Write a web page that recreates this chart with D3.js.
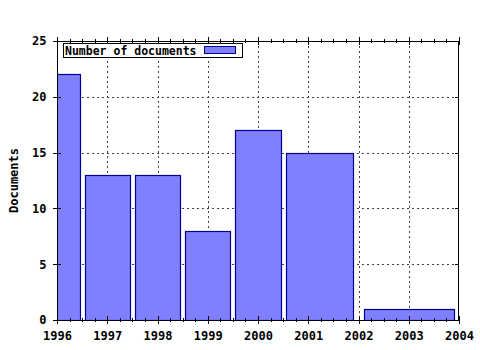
<!doctype html>
<html lang="en">
<head>
<meta charset="UTF-8">
<title>Documents per year</title>
<style>
  body { margin: 0; background: #fff; }
  text { font-family: "DejaVu Sans Mono", monospace; font-weight: bold; font-size: 12px; fill: #000; }
</style>
</head>
<body>
<div id="chart"></div>
<script src="https://d3js.org/d3.v7.min.js"></script>
<script>
  const binStart = [1995.55, 1996.55, 1997.55, 1998.55, 1999.55, 2000.55, 2002.1]
  const binEnd = [1996.45, 1997.45, 1998.45, 1999.45, 2000.45, 2001.9, 2003.9]
  const docCounts = [22, 13, 13, 8, 17, 15, 1]
  const yearTicks = [1996, 1997, 1998, 1999, 2000, 2001, 2002, 2003, 2004]
  const countTicks = [0, 5, 10, 15, 20, 25]

  const bars = binStart.map((s, i) => ({ start: s, end: binEnd[i], value: docCounts[i] }))

  const width = 480
  const height = 350
  const plotLeft = 57, plotRight = 459, plotTop = 41, plotBottom = 320

  const x = d3.scaleLinear().domain([1996, 2004]).range([plotLeft, plotRight])
  const y = d3.scaleLinear().domain([0, 25]).range([plotBottom, plotTop])

  const svg = d3.select('#chart')
    .append('svg')
    .attr('width', width)
    .attr('height', height)

  svg.append('defs').append('clipPath').attr('id', 'plot')
    .append('rect')
    .attr('x', plotLeft).attr('y', plotTop)
    .attr('width', plotRight - plotLeft).attr('height', plotBottom - plotTop)

  // dotted grid
  const grid = svg.append('g').attr('stroke', '#444').attr('stroke-dasharray', '2,3').attr('stroke-width', 1)
  grid.selectAll('.vg')
    .data(yearTicks.slice(1, -1))
    .enter().append('line')
    .attr('x1', d => Math.round(x(d)) + 0.5).attr('x2', d => Math.round(x(d)) + 0.5)
    .attr('y1', plotTop).attr('y2', plotBottom)
  grid.selectAll('.hg')
    .data(countTicks.slice(1, -1))
    .enter().append('line')
    .attr('x1', plotLeft).attr('x2', plotRight)
    .attr('y1', d => Math.round(y(d)) + 0.5).attr('y2', d => Math.round(y(d)) + 0.5)

  // bars
  svg.append('g')
    .attr('clip-path', 'url(#plot)')
    .selectAll('rect')
    .data(bars)
    .enter().append('rect')
    .attr('x', d => Math.round(x(d.start)) + 0.5)
    .attr('width', d => Math.round(x(d.end)) - Math.round(x(d.start)))
    .attr('y', d => Math.round(y(d.value)) + 0.5)
    .attr('height', d => Math.round(y(0)) - Math.round(y(d.value)))
    .attr('fill', '#8080ff')
    .attr('stroke', '#000090')
    .attr('stroke-width', 1.2)

  // axes
  const xBottom = d3.axisBottom(x).tickValues(yearTicks).tickFormat(d3.format('d')).tickSize(0).tickPadding(11)
  const gx = svg.append('g').attr('transform', `translate(0,${plotBottom + 0.5})`).call(xBottom)
  gx.select('.domain').remove()
  gx.selectAll('text').style('font-size', '12px').style('font-family', '"DejaVu Sans Mono", monospace')

  const yLeft = d3.axisLeft(y).tickValues(countTicks).tickSize(0).tickPadding(10)
  const gy = svg.append('g').attr('transform', `translate(${plotLeft - 0.5},0)`).call(yLeft)
  gy.select('.domain').remove()
  gy.selectAll('text').style('font-size', '12px').style('font-family', '"DejaVu Sans Mono", monospace')

  // frame
  svg.append('rect')
    .attr('x', plotLeft + 0.5).attr('y', plotTop + 0.5)
    .attr('width', plotRight - plotLeft - 1).attr('height', plotBottom - plotTop)
    .attr('fill', 'none').attr('stroke', '#000').attr('stroke-width', 1)

  // tick marks
  const minor = d3.range(1996, 2004.01, 0.25)
  const ticks = svg.append('g').attr('stroke', '#000')
  ticks.selectAll('.xb')
    .data(minor)
    .enter().append('line')
    .attr('x1', d => Math.round(x(d)) + 0.5).attr('x2', d => Math.round(x(d)) + 0.5)
    .attr('y1', (d, i) => plotBottom + (i % 4 === 0 ? 4 : 2))
    .attr('y2', (d, i) => plotBottom - (i % 4 === 0 ? 4 : 2))
  ticks.selectAll('.xt')
    .data(minor)
    .enter().append('line')
    .attr('x1', d => Math.round(x(d)) + 0.5).attr('x2', d => Math.round(x(d)) + 0.5)
    .attr('y1', (d, i) => plotTop - (i % 4 === 0 ? 4 : 2))
    .attr('y2', (d, i) => plotTop + (i % 4 === 0 ? 4 : 2))
  ticks.selectAll('.yl')
    .data(countTicks)
    .enter().append('line')
    .attr('x1', plotLeft - 4).attr('x2', plotLeft + 4)
    .attr('y1', d => Math.round(y(d)) + 0.5).attr('y2', d => Math.round(y(d)) + 0.5)
  ticks.selectAll('.yr')
    .data(countTicks)
    .enter().append('line')
    .attr('x1', plotRight - 4).attr('x2', plotRight)
    .attr('y1', d => Math.round(y(d)) + 0.5).attr('y2', d => Math.round(y(d)) + 0.5)

  // y label
  svg.append('text')
    .attr('transform', `translate(18,${(plotTop + plotBottom) / 2}) rotate(-90)`)
    .attr('text-anchor', 'middle')
    .text('Documents')

  // legend
  const legend = svg.append('g')
  legend.append('rect')
    .attr('x', 63.5).attr('y', 43.5).attr('width', 179).attr('height', 14)
    .attr('fill', '#fff').attr('stroke', '#000')
  legend.append('text')
    .attr('x', 65).attr('y', 54.5)
    .style('font-size', '11.5px')
    .text('Number of documents')
  legend.append('rect')
    .attr('x', 204.5).attr('y', 46.5).attr('width', 31).attr('height', 7)
    .attr('fill', '#8080ff').attr('stroke', '#000090')
</script>
</body>
</html>
